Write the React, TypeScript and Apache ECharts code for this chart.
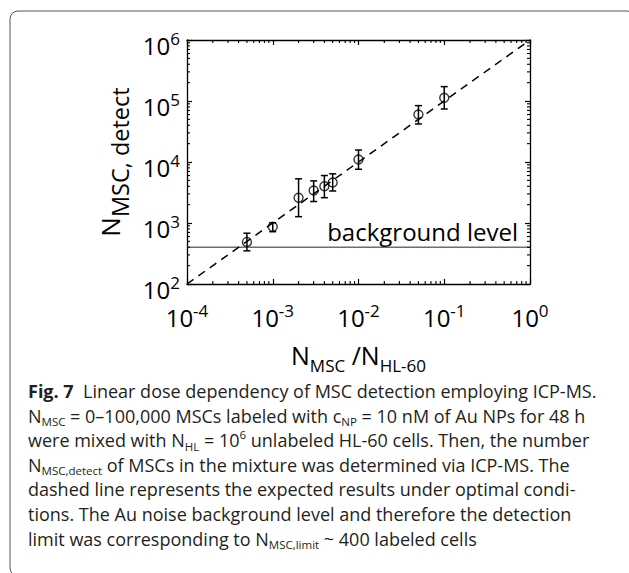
import React, { useEffect, useRef } from "react";
import * as echarts from "echarts";

// ---- data ----
const ratioValues = [5e-4, 1e-3, 2e-3, 3e-3, 4e-3, 5e-3, 1e-2, 5e-2, 1e-1];
const detectedValues = [490, 870, 2600, 3400, 4000, 4600, 11000, 60000, 113000];
const detectedLow = [350, 720, 1270, 2250, 2600, 3350, 7600, 42000, 74000];
const detectedHigh = [680, 1010, 5300, 4900, 6000, 6400, 15700, 84000, 172000];
const idealLineX = [1e-4, 1];
const idealLineY = [1e2, 1e6];
const backgroundLevel = 400;
const backgroundLabel = "background level";
const xRange = [1e-4, 1];
const yRange = [1e2, 1e6];
const minorMultipliers = [2, 3, 4, 5, 6, 7, 8, 9];
const xDecades = [1e-4, 1e-3, 1e-2, 1e-1];
const yDecades = [1e2, 1e3, 1e4, 1e5];
const xTitle = "{n|N}{s|MSC}{n| /N}{s|HL-60}";
const yTitle = "{n|N}{s|MSC, detect}";
const captionLines = [
  "{f|Fig. 7}  Linear dose dependency of MSC detection employing ICP-MS.",
  "N{s|MSC} = 0–100,000 MSCs labeled with c{s|NP} = 10 nM of Au NPs for 48 h",
  "were mixed with N{s|HL} = 10{p|6} unlabeled HL-60 cells. Then, the number",
  "N{s|MSC,detect} of MSCs in the mixture was determined via ICP-MS. The",
  "dashed line represents the expected results under optimal condi-",
  "tions. The Au noise background level and therefore the detection",
  "limit was corresponding to N{s|MSC,limit} ~ 400 labeled cells",
];

const FONT = "Open Sans";

export default function App() {
  const ref = useRef<HTMLDivElement>(null);
  useEffect(() => {
    if (!ref.current) return;
    const chart = echarts.init(ref.current, null, { renderer: "svg" });

    const xMinor: number[][] = [];
    xDecades.forEach((d) => minorMultipliers.forEach((m) => xMinor.push([m * d, yRange[0]])));
    const yMinor: number[][] = [];
    yDecades.forEach((d) => minorMultipliers.forEach((m) => yMinor.push([xRange[0], m * d])));

    const tickRich = {
      b: { fontSize: 24, lineHeight: 30, fontFamily: FONT, color: "#000" },
      e: { fontSize: 17, lineHeight: 14, verticalAlign: "top", fontFamily: FONT, color: "#000" },
    };
    const fmt = (v: number) => `{b|10}{e|${Math.round(Math.log10(v))}}`;

    const baseAxis = {
      type: "log",
      logBase: 10,
      splitLine: { show: false },
      axisLine: { show: true, lineStyle: { color: "#000", width: 1.3 } },
      axisTick: { show: true, inside: true, length: 5, lineStyle: { color: "#000", width: 1.2 } },
    };

    const lineStyle = { stroke: "#000", lineWidth: 1.5 };

    const option: any = {
      animation: false,
      backgroundColor: "#fff",
      grid: { left: 187, top: 40, right: 99, bottom: 289, outerBoundsMode: "none" },
      xAxis: [
        {
          ...baseAxis,
          min: xRange[0],
          max: xRange[1],
          position: "bottom",
          axisLabel: {
            formatter: fmt,
            rich: tickRich,
            margin: 18,
            fontSize: 24,
            fontFamily: FONT,
            color: "#000",
          },
          name: xTitle,
          nameLocation: "middle",
          nameGap: 52,
          nameTextStyle: {
            fontSize: 25,
            fontFamily: FONT,
            color: "#000",
            rich: {
              n: { fontSize: 25, lineHeight: 38, fontFamily: FONT, color: "#000" },
              s: { fontSize: 17, lineHeight: 14, verticalAlign: "bottom", fontFamily: FONT, color: "#000" },
            },
          },
        },
        {
          ...baseAxis,
          min: xRange[0],
          max: xRange[1],
          position: "top",
          axisLabel: { show: false },
        },
      ],
      yAxis: [
        {
          ...baseAxis,
          min: yRange[0],
          max: yRange[1],
          position: "left",
          axisLabel: {
            formatter: fmt,
            rich: tickRich,
            margin: 7,
            padding: [10, 0, 0, 0],
            fontSize: 24,
            fontFamily: FONT,
            color: "#000",
          },
          name: yTitle,
          nameLocation: "middle",
          nameRotate: 90,
          nameGap: 48,
          nameTextStyle: {
            fontSize: 26,
            fontFamily: FONT,
            color: "#000",
            rich: {
              n: { fontSize: 26, lineHeight: 44, fontFamily: FONT, color: "#000" },
              s: { fontSize: 23.5, lineHeight: 22, verticalAlign: "bottom", fontFamily: FONT, color: "#000" },
            },
          },
        },
        {
          ...baseAxis,
          min: yRange[0],
          max: yRange[1],
          position: "right",
          axisLabel: { show: false },
        },
      ],
      series: [
        {
          type: "line",
          data: [[xRange[0], backgroundLevel], [xRange[1], backgroundLevel]],
          symbol: "none",
          lineStyle: { color: "#6e6e6e", width: 1.3 },
          silent: true,
          z: 1,
        },
        {
          type: "line",
          data: idealLineX.map((x, i) => [x, idealLineY[i]]),
          symbol: "none",
          lineStyle: { color: "#000", width: 1.5, type: [8, 6] },
          silent: true,
          z: 2,
        },
        {
          type: "custom",
          data: ratioValues.map((x, i) => [x, detectedLow[i], detectedHigh[i]]),
          encode: { x: 0, y: [1, 2] },
          renderItem: (params: any, api: any) => {
            const x = api.value(0);
            const lo = api.coord([x, api.value(1)]);
            const hi = api.coord([x, api.value(2)]);
            const w = 3.5;
            return {
              type: "group",
              children: [
                { type: "line", shape: { x1: lo[0], y1: lo[1], x2: hi[0], y2: hi[1] }, style: lineStyle },
                { type: "line", shape: { x1: lo[0] - w, y1: lo[1], x2: lo[0] + w, y2: lo[1] }, style: lineStyle },
                { type: "line", shape: { x1: hi[0] - w, y1: hi[1], x2: hi[0] + w, y2: hi[1] }, style: lineStyle },
              ],
            };
          },
          z: 3,
        },
        {
          type: "scatter",
          data: ratioValues.map((x, i) => [x, detectedValues[i]]),
          symbol: "circle",
          symbolSize: 9,
          itemStyle: { color: "rgba(255,255,255,0)", borderColor: "#000", borderWidth: 1.4 },
          z: 4,
        },
        {
          type: "custom",
          data: xMinor,
          encode: { x: 0, y: 1 },
          renderItem: (params: any, api: any) => {
            const x = api.value(0);
            const b = api.coord([x, yRange[0]]);
            const t = api.coord([x, yRange[1]]);
            const st = { stroke: "#000", lineWidth: 1.1 };
            return {
              type: "group",
              children: [
                { type: "line", shape: { x1: b[0], y1: b[1], x2: b[0], y2: b[1] - 3 }, style: st },
                { type: "line", shape: { x1: t[0], y1: t[1], x2: t[0], y2: t[1] + 3 }, style: st },
              ],
            };
          },
          silent: true,
          z: 5,
        },
        {
          type: "custom",
          data: yMinor,
          encode: { x: 0, y: 1 },
          renderItem: (params: any, api: any) => {
            const y = api.value(1);
            const l = api.coord([xRange[0], y]);
            const r = api.coord([xRange[1], y]);
            const st = { stroke: "#000", lineWidth: 1.1 };
            return {
              type: "group",
              children: [
                { type: "line", shape: { x1: l[0], y1: l[1], x2: l[0] + 3, y2: l[1] }, style: st },
                { type: "line", shape: { x1: r[0], y1: r[1], x2: r[0] - 3, y2: r[1] }, style: st },
              ],
            };
          },
          silent: true,
          z: 5,
        },
      ],
      graphic: [
        {
          type: "rect",
          shape: { x: 10, y: 11, width: 625, height: 565, r: 8 },
          style: { fill: "none", stroke: "#555", lineWidth: 1 },
          silent: true,
          z: 0,
        },
        {
          type: "text",
          style: {
            x: 518,
            y: 231,
            text: backgroundLabel,
            fontSize: 24,
            fontFamily: FONT,
            fill: "#000",
            align: "right",
            verticalAlign: "middle",
          },
          z: 10,
        },
        ...captionLines.map((t, i) => ({
          type: "text",
          style: {
            x: 28,
            y: 379 + 24.6 * i,
            text: t,
            fontSize: 18,
            fontFamily: FONT,
            lineHeight: 24,
            fill: "#231f20",
            align: "left",
            verticalAlign: "top",
            rich: {
              f: { fontSize: 18, fontWeight: "bold", fontFamily: FONT, lineHeight: 24, fill: "#231f20" },
              s: { fontSize: 11.5, lineHeight: 19, verticalAlign: "bottom", fontFamily: FONT, fill: "#231f20" },
              p: { fontSize: 11.5, lineHeight: 16, verticalAlign: "top", fontFamily: FONT, fill: "#231f20" },
            },
          },
          z: 10,
        })),
      ],
    };
    chart.setOption(option);
    return () => chart.dispose();
  }, []);
  return (
    <div
      ref={ref}
      style={{ position: "absolute", left: 0, top: 0, width: 629, height: 573, background: "#fff" }}
    />
  );
}
